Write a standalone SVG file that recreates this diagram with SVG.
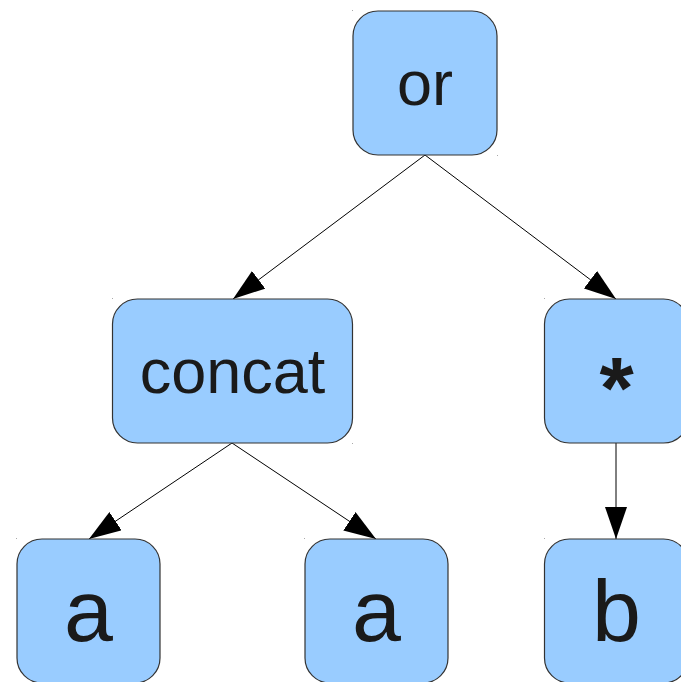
<svg xmlns="http://www.w3.org/2000/svg" width="681" height="682" viewBox="0 0 681 682">
<defs>
<style>
.node rect{fill:#99ccff;stroke:#333333;stroke-width:1.2}
.node text{font-family:"Liberation Sans",Arial,sans-serif;fill:#1a1a1a;text-anchor:middle}
.big{font-size:63px}
.huge{font-size:88px}
.bold{font-weight:bold}
.edge{stroke:#000;stroke-width:1;fill:none;marker-end:url(#ah)}
.dot{fill:#aaaaaa}
</style>
<marker id="ah" viewBox="0 0 32 22" refX="32" refY="11" markerWidth="32" markerHeight="22" markerUnits="userSpaceOnUse" orient="auto">
<path d="M0,0 L32,11 L0,22 Z" fill="#000"/>
</marker>
</defs>
<rect width="681" height="682" fill="#ffffff"/>
<g id="connectors">
<line class="edge" x1="425" y1="155" x2="233" y2="299"/>
<line class="edge" x1="425" y1="155" x2="616" y2="299"/>
<line class="edge" x1="232" y1="443" x2="89" y2="539"/>
<line class="edge" x1="232" y1="443" x2="376" y2="539"/>
<line class="edge" x1="616" y1="443" x2="616" y2="539"/>
</g>
<g id="node-or" class="node">
<rect x="353" y="11" width="144" height="144" rx="25"/>
<text class="big" x="425" y="105">or</text>
</g>
<g id="node-concat" class="node">
<rect x="112.5" y="299" width="240" height="144" rx="25"/>
<text class="big" x="232.5" y="393">concat</text>
</g>
<g id="node-star" class="node">
<rect x="544.5" y="299" width="144" height="144" rx="25"/>
<text class="huge bold" x="616.5" y="418">*</text>
</g>
<g id="node-a1" class="node">
<rect x="17" y="539" width="143" height="144" rx="25"/>
<text class="huge" x="88.5" y="641">a</text>
</g>
<g id="node-a2" class="node">
<rect x="305" y="539" width="143" height="144" rx="25"/>
<text class="huge" x="376.5" y="641">a</text>
</g>
<g id="node-b" class="node">
<rect x="544.5" y="539" width="144" height="144" rx="25"/>
<text class="huge" x="616.5" y="641">b</text>
</g>
<g id="marks">
<rect class="dot" x="352" y="10" width="1" height="1"/>
<rect class="dot" x="497" y="155" width="1" height="1"/>
<rect class="dot" x="112" y="298" width="1" height="1"/>
<rect class="dot" x="352" y="443" width="1" height="1"/>
<rect class="dot" x="544" y="298" width="1" height="1"/>
<rect class="dot" x="16" y="538" width="1" height="1"/>
<rect class="dot" x="304" y="538" width="1" height="1"/>
<rect class="dot" x="544" y="538" width="1" height="1"/>
</g>
</svg>
